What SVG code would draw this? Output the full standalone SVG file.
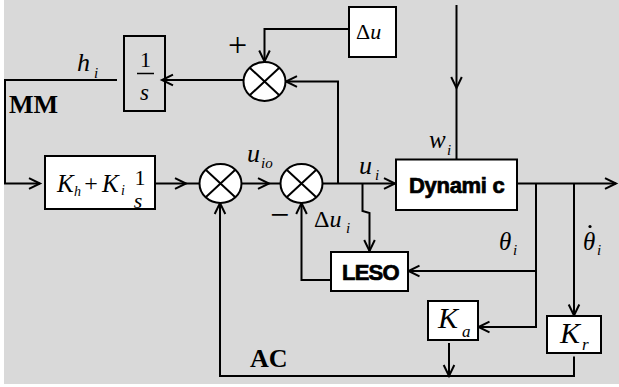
<svg xmlns="http://www.w3.org/2000/svg" width="619" height="387" viewBox="0 0 619 387">
<style>
.bx{fill:#fff;stroke:#000;stroke-width:2}
.bg{fill:none;stroke:#000;stroke-width:2}
.sj{fill:#fff;stroke:#000;stroke-width:2}
.ln{fill:none;stroke:#000;stroke-width:2}
.ar{fill:none;stroke:#000;stroke-width:2;marker-end:url(#ah)}
.m{font-family:"Liberation Serif","Times New Roman",serif;font-style:italic;fill:#000}
.r{font-family:"Liberation Serif","Times New Roman",serif;fill:#000}
.b{font-family:"Liberation Serif","Times New Roman",serif;font-weight:bold;fill:#000}
.s{font-family:"Liberation Sans",Arial,sans-serif;font-weight:bold;fill:#000;stroke:#000;stroke-width:0.7}
</style>
<defs>
<marker id="ah" markerUnits="userSpaceOnUse" markerWidth="16" markerHeight="16" viewBox="-13 -8 16 16" refX="0" refY="0" orient="auto" overflow="visible">
<path d="M-11,-5.3 L0,0 L-11,5.3" fill="none" stroke="#000" stroke-width="2"/>
</marker>
<g id="cross"><path d="M-14.8,-13.8 L14.8,13.8 M-14.8,13.8 L14.8,-13.8" stroke="#000" stroke-width="2"/></g>
</defs>
<rect x="4" y="0" width="615" height="384" fill="#d9d9d9"/>

<g id="connectors">
<path class="ar" d="M349,29 H264.5 V61.5"/>
<path class="ar" d="M338,183.5 V81.5 H286"/>
<path class="ar" d="M243.5,80 H162"/>
<path class="ar" d="M117,80 H5 V183.5 H40"/>
<path class="ar" d="M155,183.5 H186"/>
<path class="ln" d="M186,183.5 H199.5"/>
<path class="ar" d="M241.5,183.5 H269"/>
<path class="ln" d="M269,183.5 H280.5"/>
<path class="ar" d="M322.5,183.5 H395"/>
<path class="ar" d="M362.5,183.5 V211 L369.5,213 V251"/>
<path class="ar" d="M456.5,5 V88"/>
<path class="ln" d="M456.5,88 V159.5"/>
<path class="ar" d="M517,183.5 H616"/>
<path class="ar" d="M536,183.5 V327 H478.5"/>
<path class="ar" d="M536,271 H408.5"/>
<path class="ar" d="M331,280 H301.5 V203"/>
<path class="ar" d="M574,183.5 V315.5"/>
<path class="ar" d="M449,343 V376"/>
<path class="ar" d="M574,356.5 V376 H220 V203"/>
</g>

<g id="du">
<rect class="bx" x="349" y="7" width="47" height="50"/>
<text class="r" x="356" y="39" font-size="22">Δ<tspan class="m">u</tspan></text>
</g>

<g id="sum-top">
<ellipse class="sj" cx="264.5" cy="81.5" rx="21" ry="19.5"/>
<use href="#cross" x="264.5" y="81.5"/>
<text class="r" x="237.5" y="56" font-size="34" text-anchor="middle">+</text>
</g>

<g id="integrator">
<rect class="bg" x="124" y="36" width="41" height="75"/>
<text class="r" x="145.5" y="66.5" font-size="22" text-anchor="middle">1</text>
<line x1="137" y1="73.5" x2="154" y2="73.5" stroke="#000" stroke-width="1.5"/>
<text class="m" x="144.5" y="100" font-size="23" text-anchor="middle">s</text>
</g>

<g id="labels-left">
<text class="m" x="77" y="71" font-size="26">h</text>
<text class="m" x="94" y="78" font-size="15">i</text>
<text class="b" x="9" y="113" font-size="26">MM</text>
<text class="b" x="250" y="367" font-size="26">AC</text>
</g>

<g id="pi">
<rect class="bx" x="45" y="156" width="110" height="53"/>
<text class="m" x="57" y="192" font-size="25">K</text>
<text class="m" x="74" y="196" font-size="14">h</text>
<text class="r" x="91" y="191" font-size="24" text-anchor="middle">+</text>
<text class="m" x="102" y="192" font-size="25">K</text>
<text class="m" x="121" y="195" font-size="14">i</text>
<text class="r" x="140" y="185" font-size="22" text-anchor="middle">1</text>
<text class="m" x="138" y="208" font-size="22" text-anchor="middle">s</text>
</g>

<g id="sum1">
<ellipse class="sj" cx="220.5" cy="183.5" rx="21" ry="19.5"/>
<use href="#cross" x="220.5" y="183.5"/>
</g>

<g id="sum2">
<ellipse class="sj" cx="301.5" cy="183.5" rx="21" ry="19.5"/>
<use href="#cross" x="301.5" y="183.5"/>
<text class="r" x="279.5" y="226" font-size="34" text-anchor="middle">−</text>
</g>

<g id="signal-labels">
<text class="m" x="247" y="162" font-size="26">u</text>
<text class="m" x="261" y="168" font-size="15">io</text>
<text class="m" x="359" y="174" font-size="26">u</text>
<text class="m" x="375" y="180" font-size="15">i</text>
<text class="m" x="429" y="148" font-size="25">w</text>
<text class="m" x="447" y="155" font-size="15">i</text>
<text class="r" x="314" y="227" font-size="24">Δ<tspan class="m">u</tspan></text>
<text class="m" x="346" y="233" font-size="15">i</text>
<text class="m" x="499" y="250" font-size="25">θ</text>
<text class="m" x="513" y="255" font-size="15">i</text>
<text class="m" x="583" y="250" font-size="25">θ</text>
<circle cx="590" cy="226.5" r="1.6" fill="#000"/>
<text class="m" x="597" y="255" font-size="15">i</text>
</g>

<g id="dynamic">
<rect class="bx" x="396" y="159.5" width="121" height="50.5"/>
<text class="s" x="409" y="192.5" font-size="22" letter-spacing="-0.3">Dynami c</text>
</g>

<g id="leso">
<rect class="bx" x="331" y="252" width="77" height="39"/>
<text class="s" x="342" y="280" font-size="22" letter-spacing="-0.8">LESO</text>
</g>

<g id="ka">
<rect class="bx" x="428" y="301" width="50" height="39"/>
<text class="m" x="438" y="328" font-size="30">K</text>
<text class="m" x="462" y="337" font-size="17">a</text>
</g>

<g id="kr">
<rect class="bx" x="547" y="316" width="54" height="37"/>
<text class="m" x="560" y="343" font-size="30">K</text>
<text class="m" x="582" y="350" font-size="17">r</text>
</g>
</svg>
